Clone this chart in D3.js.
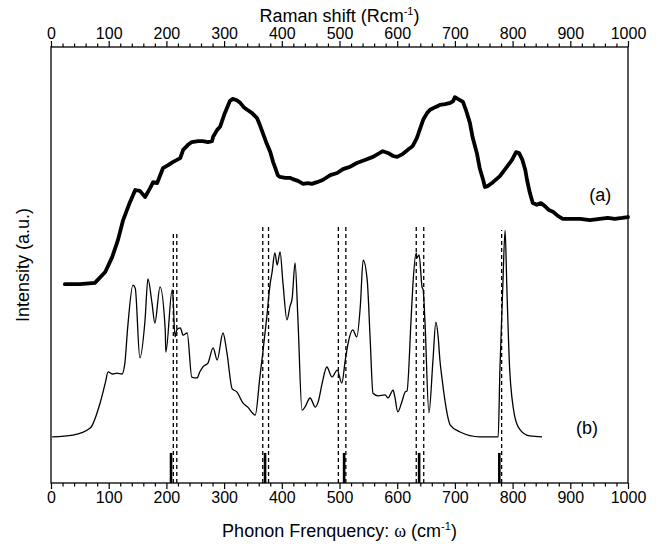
<!DOCTYPE html>
<html>
<head>
<meta charset="utf-8">
<script src="https://cdn.jsdelivr.net/npm/d3@7"></script>
<style>
  html, body { margin: 0; padding: 0; background: #fff; }
  svg { display: block; font-family: "Liberation Sans", Arial, sans-serif; }
</style>
</head>
<body>
<svg id="chart" width="660" height="550"></svg>
<script>
// (a) measured Raman spectrum
const ramanShift = [24, 50, 76, 81, 94, 106, 116, 125, 135, 146, 154, 163, 172, 177, 184, 194, 203, 211, 224, 229, 237, 244, 255, 263, 272, 279, 281, 288, 293, 300, 305, 310, 315, 322, 328, 334, 340, 348, 357, 362, 367, 374, 380, 385, 388, 393, 397, 406, 414, 419, 428, 437, 445, 452, 461, 471, 484, 496, 506, 518, 530, 544, 558, 570, 575, 584, 593, 600, 610, 622, 627, 634, 640, 645, 652, 657, 666, 674, 683, 692, 697, 700, 705, 714, 719, 726, 731, 738, 743, 749, 752, 757, 766, 778, 790, 799, 806, 811, 817, 822, 825, 830, 835, 842, 849, 856, 863, 870, 879, 887, 899, 917, 934, 951, 965, 977, 990, 1000];
const ramanIntensity = [45.6, 45.6, 45.9, 46.6, 48.4, 51.8, 55.7, 60.3, 63.8, 67.2, 67.0, 65.6, 67.7, 69.0, 68.8, 72.2, 72.9, 73.6, 74.5, 76.4, 77.5, 78.2, 78.4, 78.4, 78.2, 78.4, 79.4, 81.0, 81.7, 84.4, 86.0, 87.6, 88.1, 87.8, 87.2, 86.2, 85.6, 84.9, 83.7, 82.1, 80.3, 77.8, 75.9, 73.6, 72.5, 70.6, 70.2, 70.0, 70.0, 69.7, 69.3, 68.6, 68.8, 68.6, 69.0, 69.5, 70.6, 71.1, 72.0, 72.5, 73.4, 74.1, 74.8, 75.7, 76.1, 75.7, 75.0, 74.8, 75.5, 76.8, 77.3, 79.1, 81.4, 83.3, 84.9, 85.6, 86.2, 86.7, 86.9, 87.2, 87.6, 88.5, 88.1, 87.4, 85.6, 82.6, 79.1, 75.7, 72.2, 69.5, 67.9, 68.1, 69.0, 70.4, 72.5, 74.1, 75.9, 75.7, 74.1, 71.8, 69.5, 66.5, 64.2, 63.8, 64.2, 63.5, 62.6, 62.2, 61.2, 60.6, 60.6, 60.6, 60.3, 60.6, 60.8, 60.6, 60.8, 61.0];

// (b) calculated phonon density of states
const phononFreq = [2, 38, 68, 85, 94, 99, 107, 114, 123, 128, 133, 142, 146, 154, 163, 168, 175, 180, 189, 198, 199, 210, 211, 215, 218, 224, 229, 236, 244, 253, 258, 263, 272, 281, 288, 298, 305, 314, 322, 333, 341, 354, 362, 367, 374, 380, 383, 388, 392, 397, 402, 409, 414, 418, 423, 428, 435, 440, 449, 458, 463, 470, 478, 487, 496, 504, 510, 515, 523, 530, 536, 541, 548, 553, 558, 567, 579, 584, 593, 596, 601, 608, 614, 617, 624, 627, 633, 634, 638, 643, 645, 648, 655, 662, 667, 671, 674, 678, 692, 709, 743, 775, 778, 783, 787, 790, 795, 804, 813, 830, 851];
const phononDos = [10.6, 11.0, 12.6, 18.3, 22.9, 25.5, 25.0, 25.2, 25.0, 27.5, 35.8, 45.4, 44.7, 28.7, 37.4, 46.8, 41.3, 36.7, 45.0, 35.1, 30.0, 44.3, 43.6, 33.5, 35.1, 35.6, 33.9, 34.4, 24.3, 24.1, 25.5, 26.6, 27.5, 31.0, 28.2, 34.4, 29.8, 21.6, 20.9, 18.3, 17.4, 15.6, 24.3, 29.8, 38.1, 45.9, 48.2, 52.8, 50.0, 53.0, 45.9, 37.4, 40.4, 42.4, 50.5, 37.4, 16.7, 17.4, 19.5, 17.4, 18.6, 22.9, 26.6, 24.3, 25.9, 22.9, 28.2, 32.1, 35.1, 33.5, 40.4, 51.1, 46.6, 33.5, 20.6, 20.0, 20.2, 19.5, 21.3, 19.7, 16.3, 18.6, 20.9, 21.1, 37.4, 45.0, 52.8, 51.6, 52.3, 45.0, 44.3, 37.4, 16.1, 28.2, 36.9, 33.5, 28.2, 23.6, 13.3, 11.7, 10.6, 10.6, 25.9, 45.0, 58.0, 45.0, 25.9, 15.1, 12.2, 10.8, 10.6];

// Raman-active mode positions (dashed guides) and their heights
const modeLines = [212, 218, 367, 377, 498, 511, 633, 646, 781];
const modeLineTop = [57.6, 57.6, 59.2, 59.2, 59.2, 59.2, 59.2, 59.2, 58.0];

// calculated mode frequencies (solid bars)
const modeBars = [208, 371, 508, 638, 777];
const modeBarHeight = [6.9, 6.9, 6.9, 6.9, 6.9];

const majorTicks = [0, 100, 200, 300, 400, 500, 600, 700, 800, 900, 1000];
const minorTicks = d3.range(0, 1001, 20);

const margin = { left: 51, right: 32, top: 47, bottom: 67 };
const W = 660, H = 550;
const svg = d3.select("#chart");

const x = d3.scaleLinear().domain([0, 1000]).range([margin.left, W - margin.right]);
const y = d3.scaleLinear().domain([0, 100]).range([H - margin.bottom, margin.top]);

const x0 = x(0), x1 = x(1000), yb = y(0), yt = y(100);

// frame
svg.append("rect")
  .attr("x", x0).attr("y", yt)
  .attr("width", x1 - x0).attr("height", yb - yt)
  .attr("fill", "none").attr("stroke", "#000").attr("stroke-width", 1.3);

// bottom axis
const bottomAxis = d3.axisBottom(x).tickValues(majorTicks).tickSize(6).tickPadding(3).tickFormat(d3.format("d"));
const gB = svg.append("g").attr("transform", `translate(0,${yb})`).call(bottomAxis);
const gBm = svg.append("g").attr("transform", `translate(0,${yb})`)
  .call(d3.axisBottom(x).tickValues(minorTicks.filter(v => v % 100)).tickSize(3.5).tickFormat(""));

// top axis
const topAxis = d3.axisTop(x).tickValues(majorTicks).tickSize(6).tickPadding(2).tickFormat(d3.format("d"));
const gT = svg.append("g").attr("transform", `translate(0,${yt})`).call(topAxis);
const gTm = svg.append("g").attr("transform", `translate(0,${yt})`)
  .call(d3.axisTop(x).tickValues(minorTicks.filter(v => v % 100)).tickSize(3.5).tickFormat(""));

[gB, gBm, gT, gTm].forEach(g => {
  g.select(".domain").remove();
  g.selectAll("line").attr("stroke", "#000").attr("stroke-width", 1.2);
  g.selectAll("text").attr("font-size", 16).attr("fill", "#000")
    .attr("font-family", "'Liberation Sans', Arial, sans-serif");
});

// dashed guides for Raman-active modes
svg.append("g").selectAll("line").data(modeLines).join("line")
  .attr("x1", d => x(d)).attr("x2", d => x(d))
  .attr("y1", yb).attr("y2", (d, i) => y(modeLineTop[i]))
  .attr("stroke", "#000").attr("stroke-width", 1.3)
  .attr("stroke-dasharray", "4,3");

// solid bars for calculated modes
svg.append("g").selectAll("line").data(modeBars).join("line")
  .attr("x1", d => x(d)).attr("x2", d => x(d))
  .attr("y1", yb).attr("y2", (d, i) => y(modeBarHeight[i]))
  .attr("stroke", "#000").attr("stroke-width", 2.6);

// curve (b)
const lineB = d3.line().x((d, i) => x(phononFreq[i])).y(d => y(d)).curve(d3.curveMonotoneX);
svg.append("path").datum(phononDos)
  .attr("d", lineB).attr("fill", "none")
  .attr("stroke", "#000").attr("stroke-width", 1.3).attr("stroke-linejoin", "round");

// curve (a)
const lineA = d3.line().x((d, i) => x(ramanShift[i])).y(d => y(d));
svg.append("path").datum(ramanIntensity)
  .attr("d", lineA).attr("fill", "none")
  .attr("stroke", "#000").attr("stroke-width", 3.8)
  .attr("stroke-linejoin", "round").attr("stroke-linecap", "round");

// curve labels
svg.append("text").attr("x", x(952)).attr("y", y(66) + 6)
  .attr("text-anchor", "middle").attr("font-size", 18).text("(a)");
svg.append("text").attr("x", x(929)).attr("y", y(12.6) + 6)
  .attr("text-anchor", "middle").attr("font-size", 18).text("(b)");

// axis titles
const xt = svg.append("text").attr("x", (x0 + x1) / 2).attr("y", 537)
  .attr("text-anchor", "middle").attr("font-size", 18);
xt.append("tspan").text("Phonon Frenquency: ");
xt.append("tspan").attr("font-family", "'Liberation Serif', 'DejaVu Serif', serif").text("ω");
xt.append("tspan").text(" (cm");
xt.append("tspan").attr("font-size", 11).attr("dy", -7).text("-1");
xt.append("tspan").attr("dy", 7).text(")");

const tt = svg.append("text").attr("x", (x0 + x1) / 2).attr("y", 22)
  .attr("text-anchor", "middle").attr("font-size", 18);
tt.append("tspan").text("Raman shift (Rcm");
tt.append("tspan").attr("font-size", 11).attr("dy", -7).text("-1");
tt.append("tspan").attr("dy", 7).text(")");

svg.append("text")
  .attr("transform", `translate(29,${(yt + yb) / 2}) rotate(-90)`)
  .attr("text-anchor", "middle").attr("font-size", 18).text("Intensity (a.u.)");
</script>
</body>
</html>
